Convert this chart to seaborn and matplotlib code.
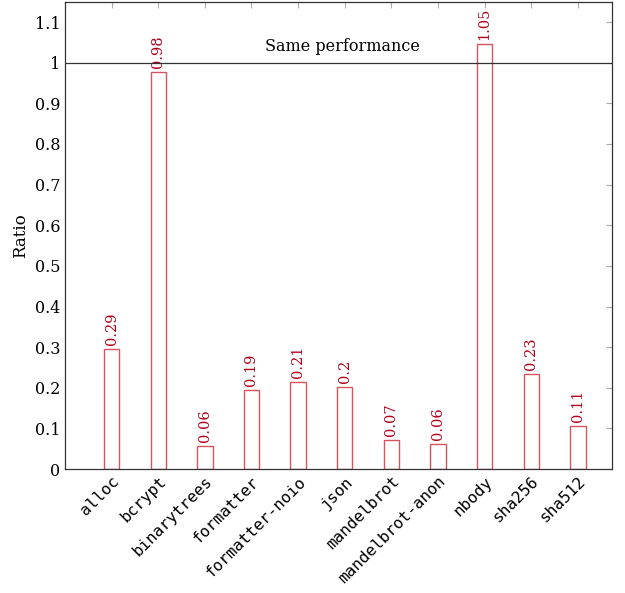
import matplotlib
matplotlib.use("Agg")
import matplotlib.pyplot as plt
import seaborn as sns
import pandas as pd

# benchmark names and ratio values
benchmarks = ["alloc", "bcrypt", "binarytrees", "formatter", "formatter-noio",
              "json", "mandelbrot", "mandelbrot-anon", "nbody", "sha256", "sha512"]
ratios = [0.295, 0.978, 0.057, 0.195, 0.214, 0.202, 0.071, 0.062, 1.047, 0.234, 0.106]
ratio_labels = ["0.29", "0.98", "0.06", "0.19", "0.21", "0.2", "0.07", "0.06",
                "1.05", "0.23", "0.11"]
y_ticks = [0, 0.1, 0.2, 0.3, 0.4, 0.5, 0.6, 0.7, 0.8, 0.9, 1, 1.1]
y_tick_labels = ["0", "0.1", "0.2", "0.3", "0.4", "0.5", "0.6", "0.7", "0.8", "0.9", "1", "1.1"]

df = pd.DataFrame({"benchmark": benchmarks, "ratio": ratios})

sns.set_style("white")
plt.rcParams["font.family"] = ["DejaVu Serif"]
plt.rcParams["text.color"] = "black"

fig = plt.figure(figsize=(6.25, 5.93), dpi=100)
ax = fig.add_axes([0.104, 0.209, 0.875, 0.788])

sns.barplot(data=df, x="benchmark", y="ratio", ax=ax, width=0.33,
            fill=False, edgecolor="#d9535f", linewidth=1.0, zorder=1)
for p in ax.patches:
    p.set_facecolor("white")
    p.set_fill(True)

for i, (v, lab) in enumerate(zip(ratios, ratio_labels)):
    ax.text(i, v + 0.01, lab, rotation=90, ha="center", va="bottom",
            color="#b0001a", fontsize=10.5)

ax.axhline(1, color="#333333", linewidth=0.9, zorder=3)
ax.text(4.95, 1.018, "Same performance", ha="center", va="bottom",
        fontsize=11.5, color="black")

ax.set_xlim(-1.0, 10.73)
ax.set_ylim(0, 1.15)
ax.set_yticks(y_ticks)
ax.set_yticklabels(y_tick_labels, fontsize=11.5, color="black")
ax.set_xticks(range(len(benchmarks)))
ax.set_xticklabels(benchmarks, rotation=45, ha="right", rotation_mode="anchor",
                   family="DejaVu Sans Mono", fontsize=11.5, color="black")
ax.set_xlabel("")
ax.set_ylabel("Ratio", fontsize=12, color="black")

ax.tick_params(axis="both", direction="in", length=4, color="#aaaaaa",
               top=True, right=True, labeltop=False, labelright=False)
for s in ax.spines.values():
    s.set_color("#333333")
    s.set_linewidth(0.9)

fig.savefig("out.png", dpi=100)
